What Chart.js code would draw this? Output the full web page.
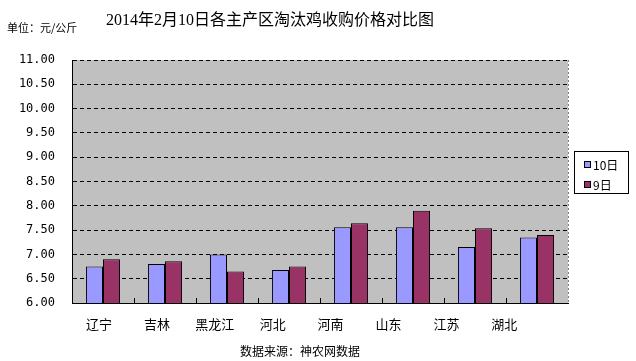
<!DOCTYPE html>
<html>
<head>
<meta charset="utf-8">
<script src="https://cdn.jsdelivr.net/npm/chart.js@4/dist/chart.umd.min.js"></script>
<style>
html,body{margin:0;padding:0;background:#fff;}
#wrap{width:636px;height:361px;position:relative;}
</style>
</head>
<body>
<div id="wrap"><canvas id="c" width="636" height="361"></canvas></div>
<script>
const titleText = '2014年2月10日各主产区淘汰鸡收购价格对比图';
const unitText = '单位：元/公斤';
const sourceText = '数据来源：神农网数据';
const categories = ['辽宁','吉林','黑龙江','河北','河南','山东','江苏','湖北'];
const seriesNames = ['10日','9日'];
const values10 = [6.75, 6.80, 7.00, 6.68, 7.56, 7.56, 7.15, 7.35];
const values9 = [6.90, 6.86, 6.65, 6.75, 7.64, 7.90, 7.54, 7.40];
const yMin = 6, yMax = 11, yStep = 0.5;

const CJK = '"Noto Sans CJK SC", sans-serif';

const decor = {
  id: 'decor',
  beforeDraw(chart) {
    const {ctx, chartArea: a} = chart;
    ctx.save();
    ctx.fillStyle = '#fff';
    ctx.fillRect(0, 0, chart.width, chart.height);
    ctx.fillStyle = '#C0C0C0';
    ctx.fillRect(a.left, a.top, a.right - a.left, a.bottom - a.top);
    ctx.restore();
  },
  afterDraw(chart) {
    const {ctx, chartArea: a} = chart;
    const xs = chart.scales.x;
    ctx.save();
    ctx.strokeStyle = '#808080';
    ctx.lineWidth = 1;
    ctx.setLineDash([2, 2]);
    ctx.beginPath();
    ctx.moveTo(a.right + 0.5, a.top);
    ctx.lineTo(a.right + 0.5, a.bottom);
    ctx.stroke();
    ctx.setLineDash([]);
    ctx.strokeStyle = '#000';
    for (let i = 1; i < categories.length; i++) {
      const x = Math.round((xs.getPixelForValue(i - 1) + xs.getPixelForValue(i)) / 2) + 0.5;
      ctx.beginPath();
      ctx.moveTo(x, a.bottom - 5);
      ctx.lineTo(x, a.bottom);
      ctx.stroke();
    }
    ctx.fillStyle = '#000';
    ctx.textBaseline = 'middle';
    ctx.textAlign = 'center';
    ctx.font = '16px "Liberation Serif", "Noto Sans CJK SC", serif';
    ctx.fillText(titleText, 270, 21);
    ctx.textAlign = 'left';
    ctx.font = '11px ' + CJK;
    ctx.fillText(unitText, 7, 28);
    ctx.textAlign = 'center';
    ctx.font = '12px ' + CJK;
    ctx.fillText(sourceText, 300, 351);
    const lx = 574, ly = 151, lw = 54, lh = 42;
    ctx.fillStyle = '#fff';
    ctx.fillRect(lx, ly, lw, lh);
    ctx.strokeStyle = '#000';
    ctx.strokeRect(lx + 0.5, ly + 0.5, lw, lh);
    chart.data.datasets.forEach((ds, i) => {
      const cy = ly + 13 + i * 20;
      ctx.fillStyle = ds.backgroundColor;
      ctx.fillRect(584, cy - 3, 7, 7);
      ctx.strokeStyle = '#000';
      ctx.strokeRect(584.5, cy - 2.5, 6, 6);
      ctx.fillStyle = '#000';
      ctx.textAlign = 'left';
      ctx.font = '12px ' + CJK;
      ctx.fillText(ds.label, 593, cy + 1);
    });
    ctx.restore();
  }
};

new Chart(document.getElementById('c'), {
  type: 'bar',
  data: {
    labels: categories,
    datasets: [
      {label: seriesNames[0], data: values10, backgroundColor: '#9999FF', borderColor: '#000', borderWidth: 1, xAxisID: 'x'},
      {label: seriesNames[1], data: values9, backgroundColor: '#993366', borderColor: '#000', borderWidth: 1, xAxisID: 'x'}
    ]
  },
  options: {
    responsive: false,
    animation: false,
    devicePixelRatio: 1,
    layout: {padding: {top: 60, left: 0, right: 68, bottom: 28}},
    plugins: {legend: {display: false}, title: {display: false}, tooltip: {enabled: false}},
    datasets: {bar: {categoryPercentage: 0.55, barPercentage: 1.0}},
    scales: {
      x: {
        type: 'category',
        position: 'bottom',
        grid: {display: false},
        border: {display: true, color: '#000', width: 1},
        ticks: {display: false},
        afterFit(s) { s.height = 0; }
      },
      x2: {
        type: 'linear',
        position: 'bottom',
        offset: false,
        min: -0.466,
        max: 8.1,
        grid: {display: false, drawTicks: false, offset: false},
        border: {display: false},
        afterBuildTicks(s) { s.ticks = categories.map((_, i) => ({value: i})); },
        ticks: {
          autoSkip: false,
          maxRotation: 0,
          minRotation: 0,
          padding: 13,
          color: '#000',
          font: {family: '"Noto Sans CJK SC", sans-serif', size: 13},
          callback: (v) => categories[Math.round(v)] ?? ''
        },
        afterFit(s) { s.height = 30; }
      },
      y: {
        min: yMin,
        max: yMax,
        grid: {color: '#000', lineWidth: 1, drawTicks: false},
        border: {display: true, color: '#000', width: 1, dash: [4, 3]},
        ticks: {
          stepSize: yStep,
          padding: 17,
          color: '#000',
          font: {family: '"DejaVu Sans Mono", monospace', size: 12},
          callback: (v) => Number(v).toFixed(2)
        },
        afterFit(s) { s.width = 72; }
      }
    }
  },
  plugins: [decor]
});
</script>
</body>
</html>
